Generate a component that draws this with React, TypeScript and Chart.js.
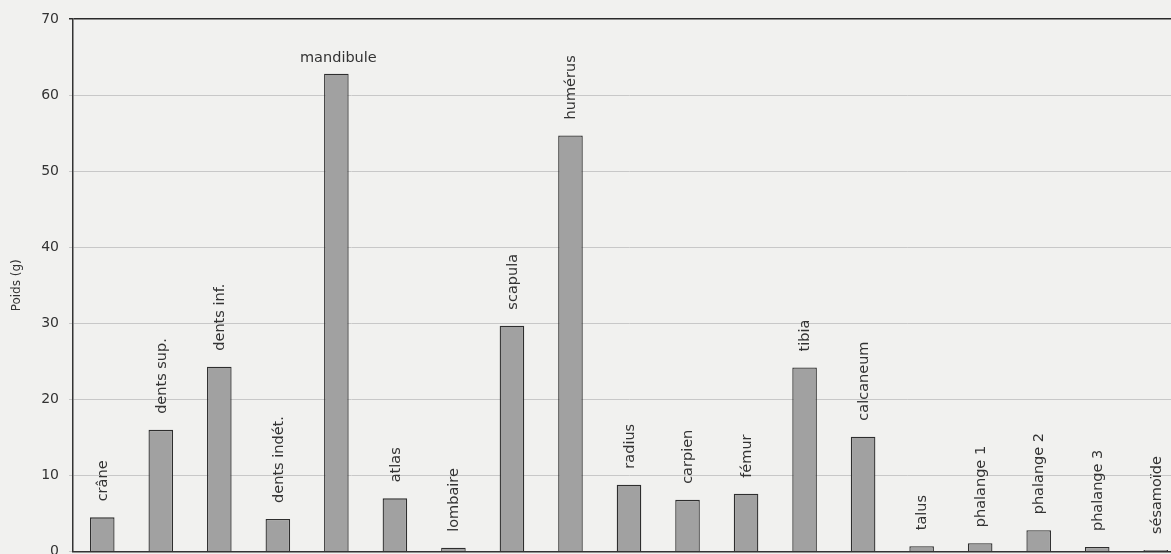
import React, { useEffect, useRef } from "react";
import { Chart, registerables } from "chart.js";

Chart.register(...registerables);

const categories = [
  "crâne", "dents sup.", "dents inf.", "dents indét.", "mandibule", "atlas",
  "lombaire", "scapula", "humérus", "radius", "carpien", "fémur", "tibia",
  "calcaneum", "talus", "phalange 1", "phalange 2", "phalange 3", "sésamoïde",
];
const weights = [4.5, 16, 24.3, 4.3, 62.8, 7.0, 0.5, 29.7, 54.7, 8.8, 6.8, 7.6, 24.2, 15.1, 0.7, 1.1, 2.8, 0.6, 0.2];
const horizontalLabels = ["mandibule"];
const yTicks = [0, 10, 20, 30, 40, 50, 60, 70];
const yTitle = "Poids (g)";

const FONT = "'DejaVu Sans', Verdana, sans-serif";

const barLabels = {
  id: "barLabels",
  afterDatasetsDraw(chart: any) {
    const ctx = chart.ctx;
    const meta = chart.getDatasetMeta(0);
    ctx.save();
    ctx.fillStyle = "#333333";
    ctx.font = `14.5px ${FONT}`;
    meta.data.forEach((bar: any, i: number) => {
      const label = categories[i];
      if (horizontalLabels.includes(label)) {
        ctx.textAlign = "center";
        ctx.textBaseline = "alphabetic";
        ctx.fillText(label, bar.x + 2, bar.y - 12);
      } else {
        ctx.save();
        ctx.translate(bar.x, bar.y - 16);
        ctx.rotate(-Math.PI / 2);
        ctx.textAlign = "left";
        ctx.textBaseline = "middle";
        ctx.fillText(label, 0, 1);
        ctx.restore();
      }
    });
    ctx.restore();
  },
};

export default function App() {
  const ref = useRef<HTMLCanvasElement>(null);
  useEffect(() => {
    if (!ref.current) return;
    const chart = new Chart(ref.current, {
      type: "bar",
      data: {
        labels: categories,
        datasets: [
          {
            data: weights,
            backgroundColor: "#a1a1a1",
            borderColor: "#2e2e2e",
            borderWidth: 1.3,
            barPercentage: 0.84,
            categoryPercentage: 0.5,
          },
        ],
      },
      options: {
        responsive: false,
        animation: false,
        devicePixelRatio: 1,
        layout: { padding: { top: 19, right: 5, bottom: 3, left: 0 } },
        plugins: { legend: { display: false }, tooltip: { enabled: false } },
        scales: {
          x: {
            ticks: { display: false },
            grid: { display: false },
            border: { display: true, color: "#333333", width: 1.5 },
          },
          y: {
            min: 0,
            max: 70,
            afterBuildTicks: (scale: any) => {
              scale.ticks = yTicks.map((v) => ({ value: v }));
            },
            afterFit: (scale: any) => {
              scale.width = 73;
            },
            ticks: {
              color: "#333333",
              font: { family: FONT, size: 14 },
              padding: 10,
            },
            grid: {
              color: (c: any) => (c.tick && c.tick.value === 70 ? "#2a2a2a" : "#c8c8c8"),
              lineWidth: (c: any) => (c.tick && c.tick.value === 70 ? 1.5 : 1),
              tickLength: 4,
            },
            border: { display: true, color: "#333333", width: 1.5 },
            title: {
              display: true,
              text: yTitle,
              color: "#333333",
              font: { family: FONT, size: 12 },
              padding: { top: 10, bottom: 0 },
            },
          },
        },
      },
      plugins: [barLabels],
    });
    return () => chart.destroy();
  }, []);
  return (
    <div
      style={{
        position: "absolute",
        left: 0,
        top: 0,
        width: 1171,
        height: 554,
        overflow: "hidden",
        background: "#f1f1ef",
      }}
    >
      <canvas ref={ref} width={1190} height={570} style={{ display: "block" }} />
    </div>
  );
}
